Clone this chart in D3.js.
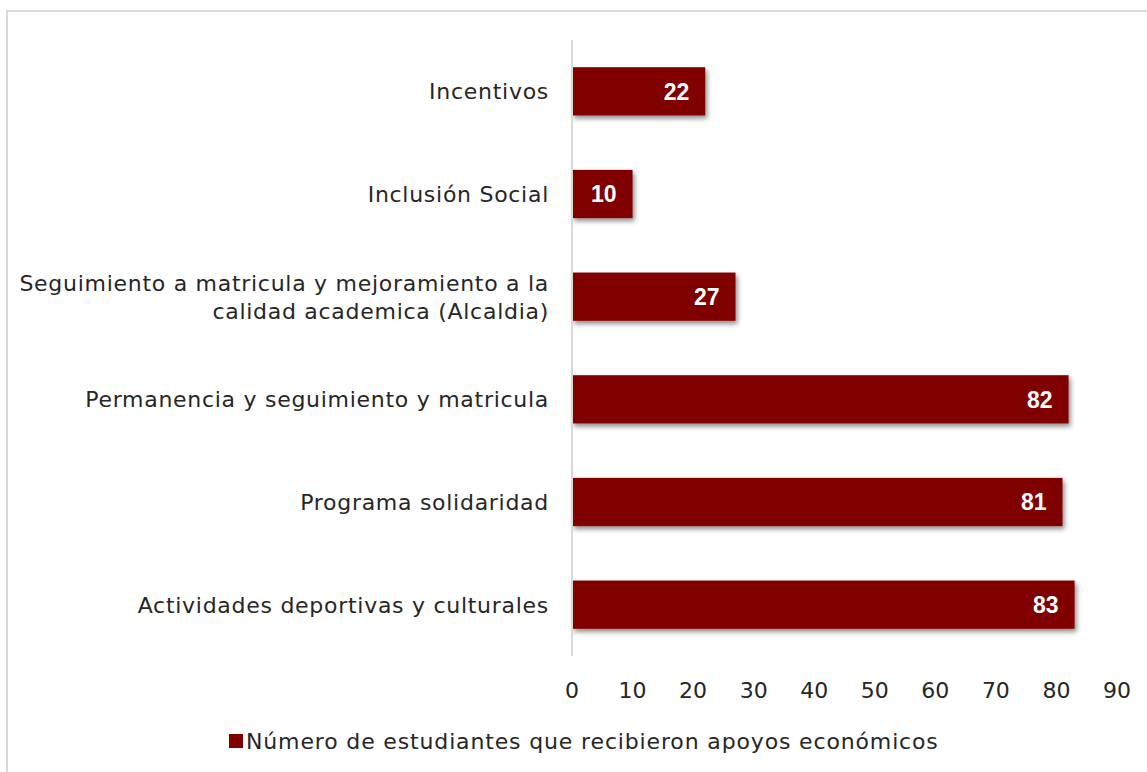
<!DOCTYPE html>
<html>
<head>
<meta charset="utf-8">
<script src="https://cdn.jsdelivr.net/npm/d3@7"></script>
<style>
  body { margin: 0; background: #fff; }
  svg { display: block; }
</style>
</head>
<body>
<svg width="1147" height="772"></svg>
<script>
const svg = d3.select("svg");
const width = +svg.attr("width");
const height = +svg.attr("height");

// Data (top to bottom)
const categories = [
  "Incentivos",
  "Inclusión Social",
  "Seguimiento a matricula y mejoramiento a la calidad academica (Alcaldia)",
  "Permanencia y seguimiento y matricula",
  "Programa solidaridad",
  "Actividades deportivas y culturales"
];
const values = [22, 10, 27, 82, 81, 83];
const xTicks = [0, 10, 20, 30, 40, 50, 60, 70, 80, 90];
const seriesName = "Número de estudiantes que recibieron apoyos económicos";

const font = "'DejaVu Sans', sans-serif";
const fontSize = 22;
const spacing = 0.72;
const barColor = "#800000";

// Outer frame
svg.append("rect")
    .attr("x", 7).attr("y", 11)
    .attr("width", width).attr("height", height)
    .attr("fill", "none")
    .attr("stroke", "#d9d9d9")
    .attr("stroke-width", 2);

// Shadow filter
const defs = svg.append("defs");
const f = defs.append("filter").attr("id", "shadow")
    .attr("x", "-10%").attr("y", "-30%").attr("width", "130%").attr("height", "180%");
f.append("feDropShadow")
    .attr("dx", 2).attr("dy", 3)
    .attr("stdDeviation", 2.5)
    .attr("flood-color", "#000")
    .attr("flood-opacity", 0.45);

// Scales
const x = d3.scaleLinear().domain([0, 90]).range([572, 1117]);
const y = d3.scaleBand().domain(categories).range([40, 656]).paddingInner(0.53).paddingOuter(0.265);

// Bars
const bars = svg.append("g").selectAll("g")
    .data(categories.map((c, i) => ({ c, v: values[i] })))
    .join("g");

bars.append("rect")
    .attr("x", x(0))
    .attr("y", d => y(d.c))
    .attr("width", d => x(d.v) - x(0))
    .attr("height", y.bandwidth())
    .attr("fill", barColor)
    .attr("filter", "url(#shadow)");

bars.append("text")
    .attr("x", d => x(d.v) - 16)
    .attr("y", d => y(d.c) + y.bandwidth() / 2)
    .attr("dy", "0.36em")
    .attr("text-anchor", "end")
    .attr("fill", "#fff")
    .attr("font-family", "'Liberation Sans', Arial, sans-serif")
    .attr("font-weight", "bold")
    .attr("font-size", 23)
    .text(d => d.v);

// Vertical axis line
svg.append("line")
    .attr("x1", x(0)).attr("x2", x(0))
    .attr("y1", 40).attr("y2", 656)
    .attr("stroke", "#d9d9d9")
    .attr("stroke-width", 2);

// Category labels (wrap long one into two lines)
const wrapped = {
  "Seguimiento a matricula y mejoramiento a la calidad academica (Alcaldia)":
    ["Seguimiento a matricula y mejoramiento a la", "calidad academica (Alcaldia)"]
};
const catLabels = svg.append("g").selectAll("text")
    .data(categories)
    .join("text")
    .attr("text-anchor", "end")
    .attr("fill", "#262626")
    .attr("font-family", font)
    .attr("font-size", fontSize)
    .attr("letter-spacing", spacing);

catLabels.each(function(d) {
  const lines = wrapped[d] || [d];
  const t = d3.select(this);
  const lh = 28;
  lines.forEach((ln, i) => {
    t.append("tspan")
      .attr("x", 549)
      .attr("y", y(d) + y.bandwidth() / 2 + (i - (lines.length - 1) / 2) * lh)
      .attr("dy", "0.36em")
      .text(ln);
  });
});

// X axis tick labels
svg.append("g").selectAll("text")
    .data(xTicks)
    .join("text")
    .attr("x", d => x(d))
    .attr("y", 690)
    .attr("dy", "0.36em")
    .attr("text-anchor", "middle")
    .attr("fill", "#262626")
    .attr("font-family", font)
    .attr("font-size", fontSize)
    .text(d => d);

// Legend
const legend = svg.append("g");
legend.append("rect")
    .attr("x", 229).attr("y", 734)
    .attr("width", 14).attr("height", 14)
    .attr("fill", barColor);
legend.append("text")
    .attr("x", 246).attr("y", 741)
    .attr("dy", "0.36em")
    .attr("fill", "#262626")
    .attr("font-family", font)
    .attr("font-size", fontSize)
    .attr("letter-spacing", 0.85)
    .text(seriesName);
</script>
</body>
</html>
